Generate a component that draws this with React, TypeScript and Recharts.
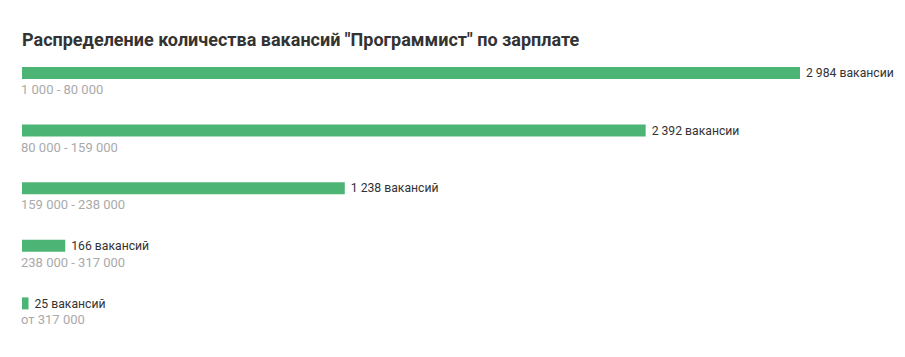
import React from 'react';
import { BarChart, Bar, XAxis, YAxis, LabelList } from 'recharts';

const ranges = ['1 000 - 80 000', '80 000 - 159 000', '159 000 - 238 000', '238 000 - 317 000', 'от 317 000'];
const counts = [2984, 2392, 1238, 166, 25];
const countLabels = ['2 984 вакансии', '2 392 вакансии', '1 238 вакансий', '166 вакансий', '25 вакансий'];

const data = ranges.map((range, i) => ({ range, count: counts[i], label: countLabels[i] }));

const FONT = 'Roboto, "Noto Sans", sans-serif';

// value text to the right of the bar
const ValueLabel = (props: any) => {
  const { x, y, width, height, index } = props;
  return (
    <text x={x + width + 6} y={y + height / 2} dy="0.35em" fill="#333" fontSize={12.2} fontFamily={FONT}>
      {countLabels[index]}
    </text>
  );
};

// salary range under the bar
const RangeLabel = (props: any) => {
  const { x, y, height, index } = props;
  return (
    <text x={x - 1} y={y + height + 15} fill="#aaa" fontSize={13} fontFamily={FONT}>
      {ranges[index]}
    </text>
  );
};

export default function App() {
  return (
    <div style={{ position: 'absolute', left: 0, top: 0, width: 905, height: 357, background: '#fff' }}>
      <div
        style={{
          position: 'absolute',
          left: 22,
          top: 29,
          fontFamily: FONT,
          fontWeight: 700,
          fontSize: 18,
          color: '#333',
          whiteSpace: 'nowrap',
        }}
      >
        Распределение количества вакансий "Программист" по зарплате
      </div>
      <BarChart
        width={905}
        height={357}
        data={data}
        layout="vertical"
        margin={{ top: 44, right: 105, left: 22, bottom: 25 }}
        barCategoryGap={0}
      >
        <XAxis type="number" domain={[0, 2984]} hide />
        <YAxis type="category" dataKey="range" hide />
        <Bar dataKey="count" fill="#4cb575" barSize={12} isAnimationActive={false}>
          <LabelList dataKey="label" content={ValueLabel} />
          <LabelList dataKey="range" content={RangeLabel} />
        </Bar>
      </BarChart>
    </div>
  );
}
